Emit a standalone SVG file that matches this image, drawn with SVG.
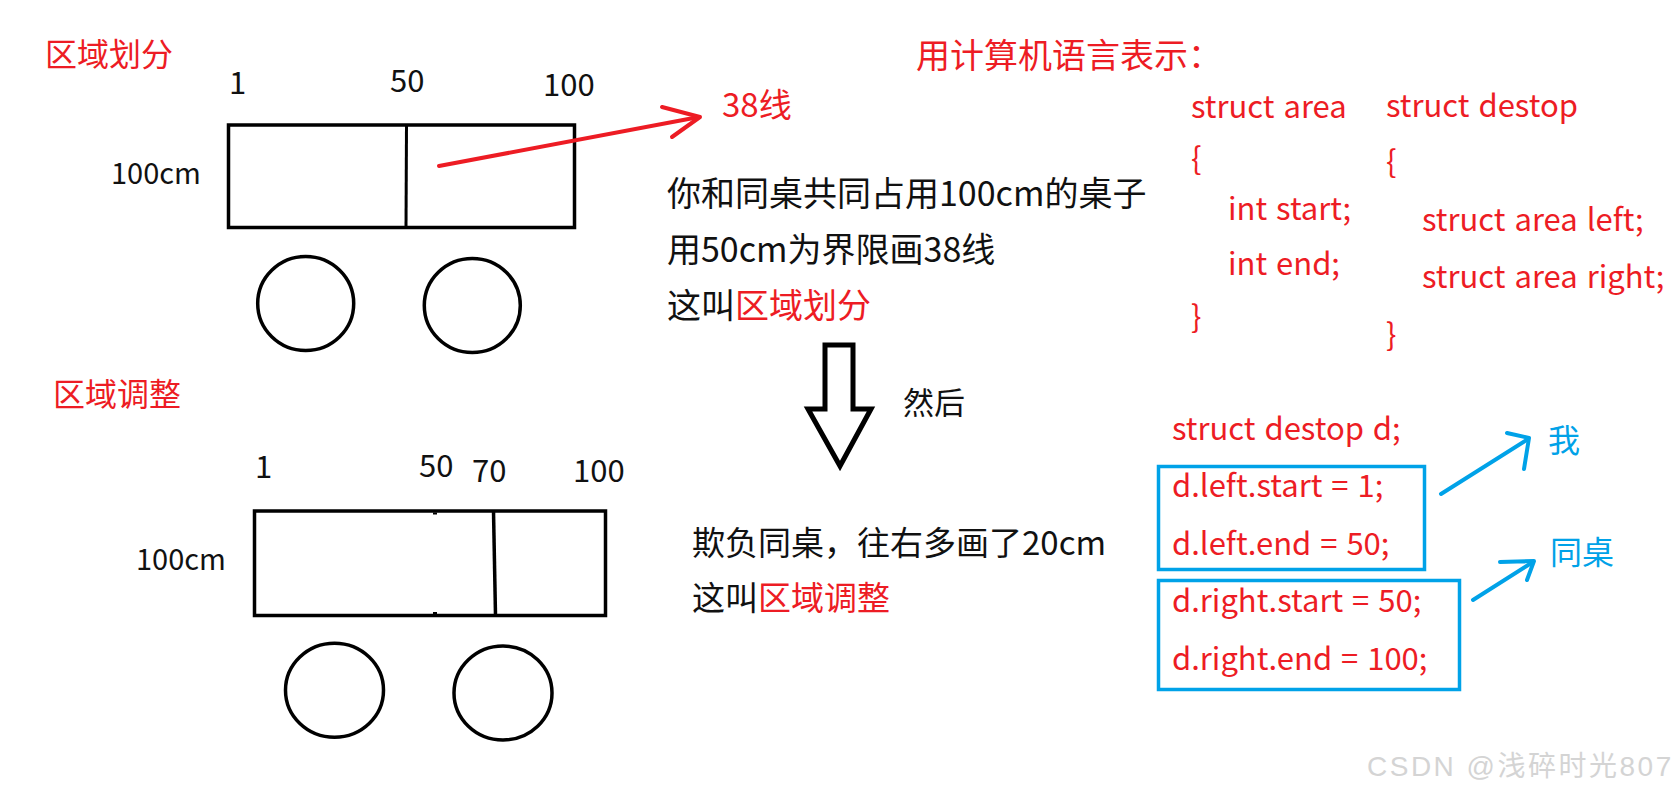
<svg xmlns="http://www.w3.org/2000/svg" width="1675" height="797" viewBox="0 0 1675 797">
<style>
text { font-family: "Noto Sans CJK SC", "Noto Sans", sans-serif; }
.red { fill: #ed1c24; }
.blk { fill: #111111; }
.blue { fill: #00a2e8; }
.title { font-size: 32px; }
.num { font-size: 31px; }
.cm { font-size: 29px; }
.para { font-size: 34px; }
.code { font-size: 31px; word-spacing: 2px; fill: #ed1c24; }
.box { fill: none; stroke: #000; stroke-width: 3.5; }
.wheel { fill: none; stroke: #000; stroke-width: 3.5; }
.redline { fill: none; stroke: #ed1c24; stroke-width: 4; stroke-linecap: round; stroke-linejoin: round; }
.blueline { fill: none; stroke: #00a2e8; stroke-width: 4; stroke-linecap: round; stroke-linejoin: round; }
.bluebox { fill: none; stroke: #00a2e8; stroke-width: 3.5; }
.wm { font-family: "Liberation Sans", "Noto Sans CJK SC", sans-serif; font-size: 28px; letter-spacing: 2.5px; fill: #d4d4d4; }
</style>
<rect width="1675" height="797" fill="#ffffff"/>

<g id="title-division">
<text class="title red" x="45" y="66">区域划分</text>
</g>
<g id="desk-top">
<text class="num blk" x="229" y="94">1</text>
<text class="num blk" x="390" y="92">50</text>
<text class="num blk" x="543" y="96">100</text>
<text class="cm blk" x="111" y="184">100cm</text>
<rect class="box" x="228.5" y="125" width="346" height="102.5"/>
<line x1="406.5" y1="125" x2="406" y2="227.5" stroke="#000" stroke-width="3"/>
<ellipse class="wheel" cx="305.7" cy="303.4" rx="48" ry="47"/>
<ellipse class="wheel" cx="472.3" cy="305.5" rx="48" ry="47"/>
</g>

<g id="label-38">
<text x="722" y="117" font-size="33" class="red">38线</text>
</g>

<g id="title-code">
<text class="red" x="916" y="68" font-size="34">用计算机语言表示：</text>
</g>

<g id="para-top">
<text class="para blk" x="667" y="206">你和同桌共同占用100cm的桌子</text>
<text class="para blk" x="667" y="262">用50cm为界限画38线</text>
<text class="para blk" x="667" y="318">这叫<tspan class="red">区域划分</tspan></text>
</g>

<g id="then">
<polygon points="825,345 853,345 853,409 871,409 840,466 808,409 825,409" fill="#ffffff" stroke="#000" stroke-width="5" stroke-linejoin="miter"/>
<text x="903" y="414" font-size="31" class="blk">然后</text>
</g>

<g id="title-adjust">
<text class="title red" x="53" y="406">区域调整</text>
</g>
<g id="desk-bottom">
<text class="num blk" x="255" y="478">1</text>
<text class="num blk" x="419" y="477">50</text>
<text class="num blk" x="472" y="482">70</text>
<text class="num blk" x="573" y="482">100</text>
<text class="cm blk" x="136" y="570">100cm</text>
<rect class="box" x="254.5" y="511" width="351" height="104.5"/>
<rect x="433" y="512.5" width="4" height="2" fill="#000"/>
<rect x="433" y="612" width="4" height="2" fill="#000"/>
<line x1="493.5" y1="511" x2="495.5" y2="615.5" stroke="#000" stroke-width="3.5"/>
<ellipse class="wheel" cx="334.5" cy="690.3" rx="49" ry="47"/>
<ellipse class="wheel" cx="503" cy="693" rx="49" ry="47"/>
</g>

<g id="para-bottom">
<text class="blk" x="692" y="555" font-size="33">欺负同桌，往右多画了20cm</text>
<text class="blk" x="692" y="610" font-size="33">这叫<tspan class="red">区域调整</tspan></text>
</g>

<g id="code-area">
<text class="code" x="1191" y="118">struct area</text>
<text class="code" x="1191" y="170">{</text>
<text class="code" x="1228" y="220">int start;</text>
<text class="code" x="1228" y="275">int end;</text>
<text class="code" x="1191" y="328">}</text>
</g>

<g id="code-destop">
<text class="code" x="1386" y="117">struct destop</text>
<text class="code" x="1386" y="173">{</text>
<text class="code" x="1422" y="231">struct area left;</text>
<text class="code" x="1422" y="288">struct area right;</text>
<text class="code" x="1386" y="346">}</text>
</g>

<g id="code-decl">
<text class="code" x="1172" y="440">struct destop d;</text>
</g>
<g id="code-left">
<rect class="bluebox" x="1158.5" y="466.5" width="266" height="103"/>
<text class="code" x="1172" y="497">d.left.start = 1;</text>
<text class="code" x="1172" y="555">d.left.end = 50;</text>
</g>
<g id="code-right">
<rect class="bluebox" x="1158.5" y="580.5" width="301" height="109"/>
<text class="code" x="1172" y="612">d.right.start = 50;</text>
<text class="code" x="1172" y="670">d.right.end = 100;</text>
</g>

<g id="label-me">
<text class="blue" x="1548" y="452" font-size="32">我</text>
</g>
<g id="label-deskmate">
<text class="blue" x="1550" y="564" font-size="32">同桌</text>
</g>

<g id="connectors">
<path class="redline" d="M439,166 L699,117"/>
<path class="redline" d="M662,107 L700,117 L672,137"/>
<path class="blueline" d="M1441,494 L1528,439"/>
<path class="blueline" d="M1507,433 L1529,438 L1524,469"/>
<path class="blueline" d="M1473,600 L1533,562"/>
<path class="blueline" d="M1500,562 L1534,561 L1527,580"/>
</g>

<text class="wm" x="1367" y="776">CSDN @浅碎时光807</text>
</svg>
